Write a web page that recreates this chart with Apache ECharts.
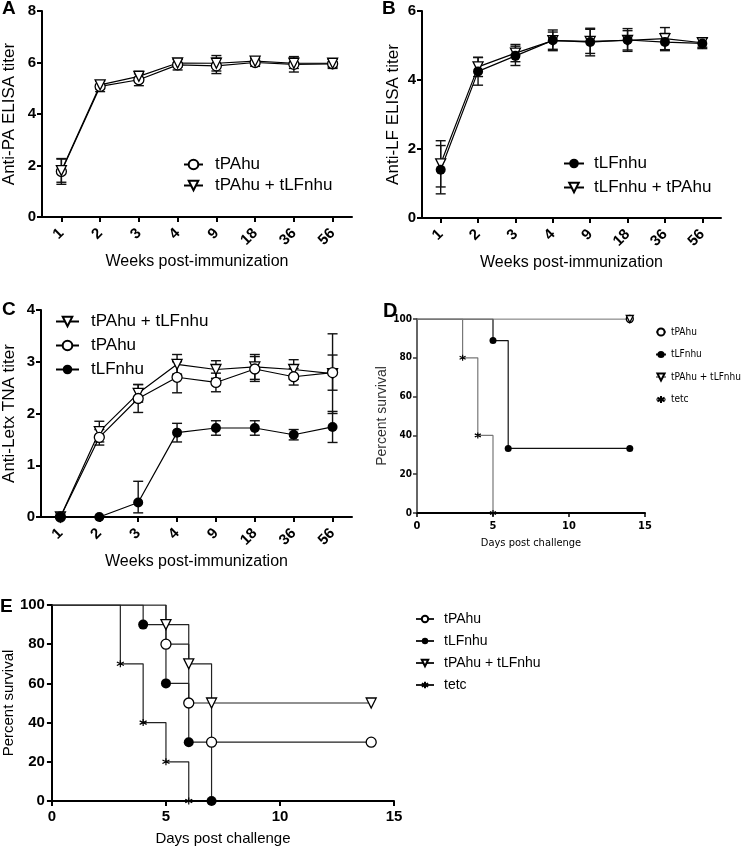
<!DOCTYPE html>
<html>
<head>
<meta charset="utf-8">
<script src="https://cdn.jsdelivr.net/npm/echarts@6/dist/echarts.min.js"></script>
<style>
  html, body { margin: 0; padding: 0; background: #fff; }
  #chart { width: 742px; height: 848px; }
</style>
</head>
<body>
<div id="chart"></div>
<script>
// x categories of panels A-C
const weeks = ['1', '2', '3', '4', '9', '18', '36', '56'];

// A: anti-PA ELISA titer (mean, +/- error)
const aTPAhu = [1.77, 5.07, 5.33, 5.91, 5.87, 6.0, 5.93, 5.95];
const aTPAhuErr = [0.5, 0.2, 0.23, 0.2, 0.3, 0.15, 0.3, 0.18];
const aCombo = [1.8, 5.13, 5.46, 5.98, 5.97, 6.05, 5.97, 5.97];
const aComboErr = [0.45, 0.15, 0.2, 0.15, 0.3, 0.12, 0.2, 0.15];

// B: anti-LF ELISA titer
const bTLFnhu = [1.4, 4.25, 4.7, 5.15, 5.1, 5.16, 5.1, 5.06];
const bTLFnhuErr = [0.7, 0.4, 0.28, 0.3, 0.4, 0.33, 0.25, 0.15];
const bCombo = [1.57, 4.38, 4.78, 5.14, 5.12, 5.15, 5.2, 5.08];
const bComboErr = [0.67, 0.28, 0.25, 0.25, 0.35, 0.28, 0.32, 0.13];

// C: anti-LeTx TNA titer
const cCombo = [0, 1.65, 2.39, 2.95, 2.85, 2.9, 2.85, 2.77];
const cComboErr = [0, 0.2, 0.17, 0.19, 0.17, 0.24, 0.19, 0.77];
const cTPAhu = [0, 1.54, 2.29, 2.7, 2.6, 2.86, 2.71, 2.79];
const cTPAhuErr = [0, 0.15, 0.27, 0.3, 0.18, 0.24, 0.16, 0.34];
const cTLFnhu = [0, 0, 0.28, 1.63, 1.72, 1.72, 1.59, 1.74];
const cTLFnhuErrUp = [0, 0, 0.41, 0.18, 0.14, 0.14, 0.1, 0.3];
const cTLFnhuErrDown = [0, 0, 0.2, 0.18, 0.14, 0.14, 0.1, 0.3];

// D: survival (days, percent)
const dTPAhuDays = [0, 14];
const dTPAhuSurv = [100, 100];
const dTLFnhuDays = [0, 5, 6, 14];
const dTLFnhuSurv = [100, 88.9, 33.3, 33.3];
const dComboDays = [0, 14];
const dComboSurv = [100, 100];
const dTetcDays = [0, 3, 4, 5];
const dTetcSurv = [100, 80, 40, 0];

// E: survival (days, percent)
const eTPAhuDays = [0, 5, 6, 7, 14];
const eTPAhuSurv = [100, 80, 50, 30, 30];
const eTLFnhuDays = [0, 4, 5, 6, 7];
const eTLFnhuSurv = [100, 90, 60, 30, 0];
const eComboDays = [0, 5, 6, 7, 14];
const eComboSurv = [100, 90, 70, 50, 50];
const eTetcDays = [0, 3, 4, 5, 6];
const eTetcSurv = [100, 70, 40, 20, 0];

const F = 'Liberation Sans, Arial, sans-serif';
const NARROW = 'Liberation Sans Narrow, DejaVu Sans Condensed, Liberation Sans, sans-serif';

const TRI = 'path://M0,0L10,0L5,9Z';
const STAR = 'path://M5,0L5,10M0.7,2.5L9.3,7.5M0.7,7.5L9.3,2.5';

const styles = {
  open: { symbol: 'circle', itemStyle: { color: '#fff', borderColor: '#000', borderWidth: 1.3 } },
  filled: { symbol: 'circle', itemStyle: { color: '#000', borderColor: '#000', borderWidth: 0 } },
  tri: { symbol: TRI, itemStyle: { color: '#fff', borderColor: '#000', borderWidth: 1.3 } },
  star: { symbol: STAR, itemStyle: { color: '#000', borderColor: '#000', borderWidth: 1.2 } }
};

function weekLine(name, gi, values, st, size) {
  return {
    name: name, type: 'line', xAxisIndex: gi, yAxisIndex: gi, z: 3,
    symbol: styles[st].symbol, symbolSize: size || 10, showAllSymbol: true,
    itemStyle: styles[st].itemStyle,
    lineStyle: { color: '#000', width: 1.2 },
    data: values, animation: false
  };
}

function errorBars(gi, values, up, down) {
  return {
    type: 'custom', xAxisIndex: gi, yAxisIndex: gi, z: 2, silent: true,
    encode: { x: 0, y: [1, 2] },
    data: values.map((v, i) => [i, v - down[i], v + up[i]]),
    renderItem: function (params, api) {
      const lo = api.value(1), hi = api.value(2);
      if (hi - lo < 0.01) return;
      const top = api.coord([api.value(0), hi]);
      const bot = api.coord([api.value(0), lo]);
      const w = 5;
      const st = { stroke: '#111', lineWidth: 1.4 };
      return {
        type: 'group', children: [
          { type: 'line', shape: { x1: top[0], y1: top[1], x2: bot[0], y2: bot[1] }, style: st },
          { type: 'line', shape: { x1: top[0] - w, y1: top[1], x2: top[0] + w, y2: top[1] }, style: st },
          { type: 'line', shape: { x1: bot[0] - w, y1: bot[1], x2: bot[0] + w, y2: bot[1] }, style: st }
        ]
      };
    },
    animation: false
  };
}

function kmLine(name, gi, days, surv, st, size, color) {
  return {
    name: name, type: 'line', xAxisIndex: gi, yAxisIndex: gi, step: 'end',
    symbol: styles[st].symbol, showAllSymbol: true,
    symbolSize: (v, p) => (p.dataIndex === 0 ? 0 : size),
    itemStyle: styles[st].itemStyle,
    lineStyle: { color: color, width: 1.2 },
    data: days.map((d, i) => [d, surv[i]]), animation: false
  };
}

function catAxis(gi) {
  return {
    type: 'category', gridIndex: gi, data: weeks, boundaryGap: true,
    axisLine: { show: true, lineStyle: { color: '#000', width: 2 } },
    axisTick: { show: true, alignWithLabel: true, length: 5, lineStyle: { color: '#000', width: 2 } },
    axisLabel: { rotate: 45, fontSize: 15, fontWeight: 'bold', color: '#000', fontFamily: F, margin: 14 },
    name: 'Weeks post-immunization', nameLocation: 'middle', nameGap: 37,
    nameTextStyle: { fontSize: 16, color: '#000', fontFamily: F }
  };
}

function valAxis(gi, max, interval, name, gap) {
  return {
    type: 'value', gridIndex: gi, min: 0, max: max, interval: interval,
    axisLine: { show: true, lineStyle: { color: '#000', width: 2 } },
    axisTick: { show: true, length: 5, lineStyle: { color: '#000', width: 2 } },
    splitLine: { show: false },
    axisLabel: { fontSize: 15, fontWeight: 'bold', color: '#000', fontFamily: F, margin: 6 },
    name: name, nameLocation: 'middle', nameGap: gap,
    nameTextStyle: { fontSize: 17, color: '#000', fontFamily: F }
  };
}

function legendBox(names, left, top, opt) {
  return Object.assign({
    data: names, left: left, top: top, orient: 'vertical', padding: 0,
    itemWidth: 19, itemHeight: 12, itemGap: 4, selectedMode: false,
    formatter: n => n.split('|')[1],
    textStyle: { fontSize: 17, color: '#000', fontFamily: F, padding: [0, 0, 0, 7] }
  }, opt);
}

const letter = (t, left, top, size) => ({
  text: t, left: left, top: top, padding: 0,
  textStyle: { fontSize: size || 19, fontWeight: 'bold', color: '#000', fontFamily: F }
});

const option = {
  backgroundColor: '#fff',
  animation: false,
  title: [
    letter('A', 2, -1), letter('B', 382, -1), letter('C', 2, 300),
    letter('D', 383, 301, 20), letter('E', 0, 597)
  ],
  grid: [
    { left: 41, top: 11, width: 311, height: 206 },
    { left: 422, top: 11, width: 299, height: 207 },
    { left: 41, top: 310, width: 311, height: 207 },
    { left: 417, top: 319, width: 228, height: 194 },
    { left: 47, top: 605, width: 347, height: 196 }
  ],
  xAxis: [
    catAxis(0), catAxis(1), catAxis(2),
    {
      type: 'value', gridIndex: 3, min: 0, max: 15, interval: 5,
      axisLine: { show: true, lineStyle: { color: '#000', width: 2 } },
      axisTick: { show: true, length: 4, lineStyle: { color: '#000', width: 1.5 } },
      splitLine: { show: false },
      axisLabel: { fontSize: 11, fontWeight: 'bold', color: '#000', fontFamily: NARROW, margin: 8 },
      name: 'Days post challenge', nameLocation: 'middle', nameGap: 25,
      nameTextStyle: { fontSize: 11, color: '#000', fontFamily: NARROW }
    },
    {
      type: 'value', gridIndex: 4, min: 0, max: 15, interval: 5,
      axisLine: { show: true, lineStyle: { color: '#000', width: 2 } },
      axisTick: { show: true, length: 5, lineStyle: { color: '#000', width: 2 } },
      splitLine: { show: false },
      axisLabel: { fontSize: 15, fontWeight: 'bold', color: '#000', fontFamily: F, margin: 8 },
      name: 'Days post challenge', nameLocation: 'middle', nameGap: 30,
      nameTextStyle: { fontSize: 15, color: '#000', fontFamily: F }
    }
  ],
  yAxis: [
    valAxis(0, 8, 2, 'Anti-PA ELISA titer', 24),
    valAxis(1, 6, 2, 'Anti-LF ELISA titer', 20),
    valAxis(2, 4, 1, 'Anti-Letx TNA titer', 23),
    {
      type: 'value', gridIndex: 3, min: 0, max: 100, interval: 20,
      axisLine: { show: true, lineStyle: { color: '#333', width: 1.5 } },
      axisTick: { show: true, length: 4, lineStyle: { color: '#333', width: 1.5 } },
      splitLine: { show: false },
      axisLabel: { fontSize: 10, fontWeight: 'bold', color: '#000', fontFamily: NARROW, margin: 5 },
      name: 'Percent survival', nameLocation: 'middle', nameGap: 16,
      nameTextStyle: { fontSize: 14, color: '#333', fontFamily: F }
    },
    {
      type: 'value', gridIndex: 4, min: 0, max: 100, interval: 20,
      axisLine: { show: true, lineStyle: { color: '#000', width: 2 } },
      axisTick: { show: true, length: 5, lineStyle: { color: '#000', width: 2 } },
      splitLine: { show: false },
      axisLabel: { fontSize: 15, fontWeight: 'bold', color: '#000', fontFamily: F, margin: 7 },
      name: 'Percent survival', nameLocation: 'middle', nameGap: 32,
      nameTextStyle: { fontSize: 15, color: '#000', fontFamily: F }
    }
  ],
  legend: [
    legendBox(['A|tPAhu', 'A|tPAhu + tLFnhu'], 183, 156, {}),
    legendBox(['B|tLFnhu', 'B|tLFnhu + tPAhu'], 563, 155, { itemWidth: 20, itemGap: 7,
      textStyle: { fontSize: 17, color: '#000', fontFamily: F, padding: [0, 0, 0, 5] } }),
    legendBox(['C|tPAhu + tLFnhu', 'C|tPAhu', 'C|tLFnhu'], 55, 313, { itemWidth: 23, itemGap: 7 }),
    legendBox(['D|tPAhu', 'D|tLFnhu', 'D|tPAhu + tLFnhu', 'D|tetc'], 655, 327, {
      itemWidth: 10, itemHeight: 9, itemGap: 12.5,
      textStyle: { fontSize: 10, color: '#000', fontFamily: NARROW, padding: [0, 0, 0, 0] } }),
    legendBox(['E|tPAhu', 'E|tLFnhu', 'E|tPAhu + tLFnhu', 'E|tetc'], 415, 612, {
      itemWidth: 18, itemHeight: 8, itemGap: 8,
      textStyle: { fontSize: 14, color: '#000', fontFamily: F, padding: [0, 0, 0, 5] } })
  ],
  series: [
    errorBars(0, aTPAhu, aTPAhuErr, aTPAhuErr),
    errorBars(0, aCombo, aComboErr, aComboErr),
    weekLine('A|tPAhu', 0, aTPAhu, 'open'),
    weekLine('A|tPAhu + tLFnhu', 0, aCombo, 'tri'),

    errorBars(1, bCombo, bComboErr, bComboErr),
    errorBars(1, bTLFnhu, bTLFnhuErr, bTLFnhuErr),
    weekLine('B|tLFnhu + tPAhu', 1, bCombo, 'tri'),
    weekLine('B|tLFnhu', 1, bTLFnhu, 'filled'),

    errorBars(2, cCombo, cComboErr, cComboErr),
    errorBars(2, cTPAhu, cTPAhuErr, cTPAhuErr),
    errorBars(2, cTLFnhu, cTLFnhuErrUp, cTLFnhuErrDown),
    weekLine('C|tPAhu + tLFnhu', 2, cCombo, 'tri'),
    weekLine('C|tPAhu', 2, cTPAhu, 'open'),
    weekLine('C|tLFnhu', 2, cTLFnhu, 'filled'),

    kmLine('D|tPAhu', 3, dTPAhuDays, dTPAhuSurv, 'open', 7, '#888'),
    kmLine('D|tLFnhu', 3, dTLFnhuDays, dTLFnhuSurv, 'filled', 7, '#111'),
    kmLine('D|tPAhu + tLFnhu', 3, dComboDays, dComboSurv, 'tri', 7, '#888'),
    kmLine('D|tetc', 3, dTetcDays, dTetcSurv, 'star', 6, '#777'),

    kmLine('E|tPAhu', 4, eTPAhuDays, eTPAhuSurv, 'open', 10, '#222'),
    kmLine('E|tLFnhu', 4, eTLFnhuDays, eTLFnhuSurv, 'filled', 10, '#222'),
    kmLine('E|tPAhu + tLFnhu', 4, eComboDays, eComboSurv, 'tri', 10, '#222'),
    kmLine('E|tetc', 4, eTetcDays, eTetcSurv, 'star', 7, '#222')
  ]
};

const chart = echarts.init(document.getElementById('chart'));
chart.setOption(option);
</script>
</body>
</html>
